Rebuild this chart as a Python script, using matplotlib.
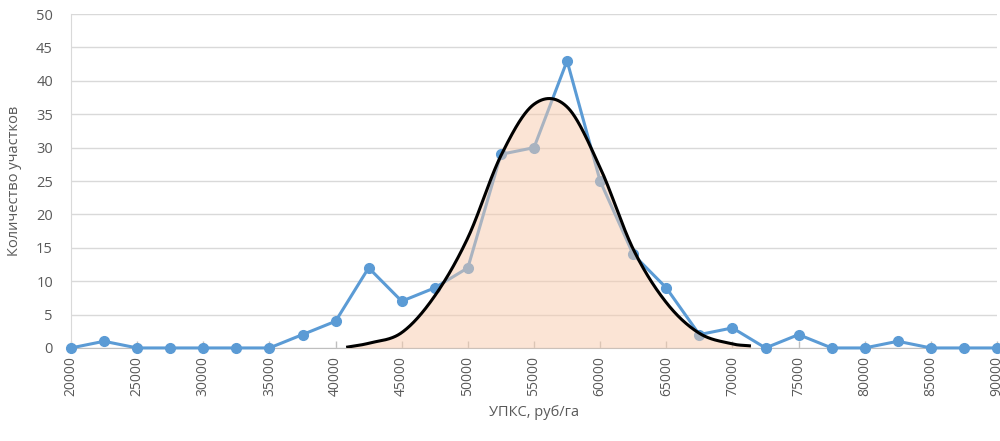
import numpy as np
import matplotlib
matplotlib.use("Agg")
import matplotlib.pyplot as plt

# ---- data ----
upks = [20000, 22500, 25000, 27500, 30000, 32500, 35000, 37500, 40000, 42500,
        45000, 47500, 50000, 52500, 55000, 57500, 60000, 62500, 65000, 67500,
        70000, 72500, 75000, 77500, 80000, 82500, 85000, 87500, 90000]
counts = [0, 1, 0, 0, 0, 0, 0, 2, 4, 12,
          7, 9, 12, 29, 30, 43, 25, 14, 9, 2,
          3, 0, 2, 0, 0, 1, 0, 0, 0]

# normal-fit curve, points
fit_x = [40800, 42500, 45000, 47500, 50000, 52500, 55000, 57500,
         60000, 62500, 65000, 67500, 70000, 71400]
fit_y = [0.1, 0.7, 2.3, 7.8, 16.5, 28.8, 36.5, 36.1,
         27.0, 14.8, 6.8, 2.2, 0.6, 0.3]

x_ticks = list(range(20000, 90001, 5000))
y_ticks = list(range(0, 51, 5))


def hermite_smooth(xs, ys, n=80):
    """Cubic Hermite interpolation with finite-difference tangents."""
    xs = np.asarray(xs, float)
    ys = np.asarray(ys, float)
    m = np.zeros_like(ys)
    m[1:-1] = (ys[2:] - ys[:-2]) / (xs[2:] - xs[:-2])
    m[0] = (ys[1] - ys[0]) / (xs[1] - xs[0])
    m[-1] = (ys[-1] - ys[-2]) / (xs[-1] - xs[-2])
    ox, oy = [], []
    for i in range(len(xs) - 1):
        h = xs[i + 1] - xs[i]
        t = np.linspace(0, 1, n, endpoint=False)
        h00 = 2 * t**3 - 3 * t**2 + 1
        h10 = t**3 - 2 * t**2 + t
        h01 = -2 * t**3 + 3 * t**2
        h11 = t**3 - t**2
        ox.append(xs[i] + t * h)
        oy.append(h00 * ys[i] + h10 * h * m[i] + h01 * ys[i + 1] + h11 * h * m[i + 1])
    ox.append([xs[-1]])
    oy.append([ys[-1]])
    return np.concatenate(ox), np.concatenate(oy)


plt.rcParams['font.family'] = ['Open Sans', 'DejaVu Sans']

fig = plt.figure(figsize=(10, 4.41), dpi=100)
ax = fig.add_axes([0.071, 0.211, 0.926, 0.757])

ax.set_xlim(20000, 90000)
ax.set_ylim(0, 50)

ax.plot(upks, counts, color='#5B9BD5', lw=2.2, marker='o', markersize=7,
        clip_on=False, zorder=3)

sx, sy = hermite_smooth(fit_x, fit_y)
ax.fill_between(sx, 0, sy, color='#F8CBAD', alpha=0.5, lw=0, zorder=4)
ax.plot(sx, sy, color='black', lw=2.2, zorder=5, solid_capstyle='butt')

ax.set_xticks(x_ticks)
ax.set_xticklabels([str(v) for v in x_ticks], rotation=90, fontsize=10, color='#595959')
ax.set_yticks(y_ticks)
ax.set_yticklabels([str(v) for v in y_ticks], fontsize=10.5, color='#595959')

ax.tick_params(axis='x', direction='in', length=5, width=1, color='#BFBFBF', pad=6)
ax.tick_params(axis='y', length=0, pad=13)

ax.grid(axis='y', color='#D9D9D9', lw=1, zorder=0)
ax.set_axisbelow(True)

for s in ['top', 'right']:
    ax.spines[s].set_visible(False)
ax.spines['left'].set_color('#D9D9D9')
ax.spines['bottom'].set_color('#BFBFBF')
ax.spines['bottom'].set_zorder(2)

ax.set_ylabel('Количество участков', fontsize=10.5, color='#595959', labelpad=10)
ax.set_xlabel('УПКС, руб/га', fontsize=10.5, color='#595959', labelpad=6)

fig.savefig('out.png', dpi=100)
